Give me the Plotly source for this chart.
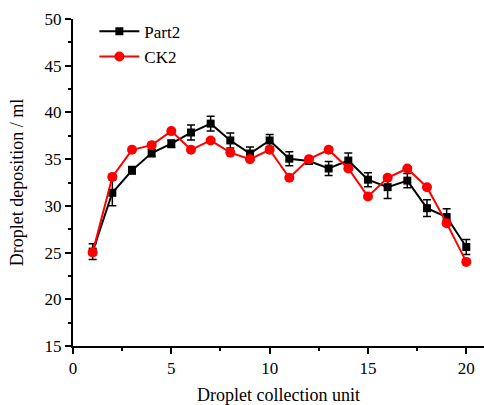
import plotly.graph_objects as go

units = list(range(1, 21))
part2 = [25.1, 31.4, 33.8, 35.65, 36.65, 37.85, 38.8, 37.0, 35.6, 37.0,
         35.05, 34.8, 34.0, 34.85, 32.8, 32.0, 32.7, 29.75, 28.8, 25.6]
part2_err = [0.85, 1.4, 0.4, 0.4, 0.4, 0.8, 0.8, 0.8, 0.7, 0.65,
             0.75, 0.3, 0.75, 0.8, 0.75, 1.2, 0.75, 0.9, 0.9, 0.8]
ck2 = [25.0, 33.1, 36.0, 36.5, 38.0, 36.0, 37.0, 35.7, 35.0, 36.0,
       33.0, 35.0, 36.0, 34.0, 31.0, 33.0, 34.0, 32.0, 28.15, 24.0]

FONT = "Liberation Serif"

fig = go.Figure()
fig.add_trace(go.Scatter(
    x=units, y=part2, name="Part2", mode="lines+markers",
    line=dict(color="black", width=2),
    marker=dict(symbol="square", size=8, color="black"),
    error_y=dict(type="data", array=part2_err, visible=True,
                 color="black", thickness=1.5, width=4),
))
fig.add_trace(go.Scatter(
    x=units, y=ck2, name="CK2", mode="lines+markers",
    line=dict(color="#ff0000", width=2),
    marker=dict(symbol="circle", size=10, color="#ff0000"),
))

axis_common = dict(
    showline=True, linecolor="black", linewidth=2,
    ticks="outside", ticklen=6, tickwidth=1.5, tickcolor="black",
    showgrid=False, zeroline=False, mirror=False, automargin=False,
    tickfont=dict(family=FONT, size=17, color="black"),
    title_font=dict(family=FONT, size=18, color="black"),
    minor=dict(dtick=2.5, ticks="outside", ticklen=3, tickwidth=1.5, tickcolor="black"),
)

fig.update_layout(
    width=484, height=405,
    margin=dict(l=73, r=0, t=19, b=59, autoexpand=False),
    plot_bgcolor="white", paper_bgcolor="white",
    xaxis=dict(range=[0, 20.9], dtick=5, tick0=0,
               title=dict(text="Droplet collection unit", standoff=12), **axis_common),
    yaxis=dict(range=[15, 50], dtick=5, tick0=15,
               title=dict(text="Droplet deposition / ml", standoff=16), **axis_common),
    legend=dict(x=0.052, y=1.016, xanchor="left", yanchor="top",
                font=dict(family=FONT, size=17, color="black"),
                bgcolor="rgba(0,0,0,0)", tracegroupgap=0, itemwidth=40),
    showlegend=True,
)

fig.write_html("out.html", config={"displayModeBar": False},
               post_script="document.body.style.margin='0';")
